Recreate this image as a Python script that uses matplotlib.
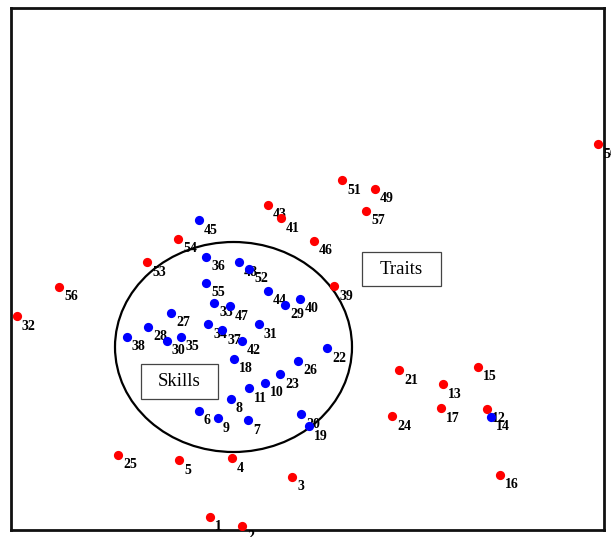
import matplotlib
matplotlib.use("Agg")
import matplotlib.pyplot as plt
from matplotlib.patches import Ellipse, Rectangle

# Red items (traits)
red_ids = [1, 2, 3, 4, 5, 25, 16, 24, 17, 12, 13, 21, 15, 32, 56, 53, 54, 43, 41, 46, 39, 51, 49, 57, 50]
red_x = [210, 242, 292, 232, 179, 118, 500, 392, 441, 487, 443, 399, 478, 17, 59, 147, 178, 268, 281, 314, 334, 342, 375, 366, 598]
red_y = [20, 11, 60, 79, 77, 82, 62, 121, 129, 128, 153, 167, 170, 221, 250, 275, 298, 332, 319, 296, 251, 357, 348, 326, 393]

# Blue items (skills)
blue_ids = [45, 36, 48, 52, 55, 44, 29, 40, 33, 47, 27, 34, 37, 42, 31, 22, 28, 38, 30, 35,
            18, 26, 23, 10, 11, 8, 6, 9, 7, 20, 19, 14]
blue_x = [199, 206, 239, 249, 206, 268, 285, 300, 214, 230, 171, 208, 222, 242, 259, 327, 148, 127, 167, 181,
          234, 298, 280, 265, 249, 231, 199, 218, 248, 301, 309, 491]
blue_y = [317, 280, 275, 268, 254, 246, 232, 238, 234, 231, 224, 213, 207, 196, 213, 189, 210, 200, 196, 200,
          178, 176, 163, 154, 149, 138, 126, 119, 117, 123, 111, 120]

fig = plt.figure(figsize=(6.11, 5.37), dpi=100)
ax = fig.add_axes([11 / 611, 7 / 537, 593 / 611, 522 / 537])
ax.set_xlim(11, 604)
ax.set_ylim(7, 529)

ax.scatter(red_x, red_y, s=44, color="#ff0000", zorder=4, linewidths=0)
ax.scatter(blue_x, blue_y, s=44, color="#0000ff", zorder=4, linewidths=0)

for i, x, y in zip(red_ids + blue_ids, red_x + blue_x, red_y + blue_y):
    ax.annotate(str(i), (x, y), xytext=(5, -10), textcoords="offset pixels",
                ha="left", va="center", family="Liberation Serif", weight="bold", size=10,
                zorder=3, annotation_clip=False)

ax.add_patch(Ellipse((233.5, 190), 237, 210, fill=False, edgecolor="black", linewidth=1.6, zorder=2))

ax.add_patch(Rectangle((362, 251), 79, 34, fill=False, edgecolor="#444444", linewidth=0.9, zorder=2))
ax.text(401.5, 268, "Traits", ha="center", va="center", family="Liberation Serif", size=13.5, zorder=3)
ax.add_patch(Rectangle((141, 138), 77, 35, fill=False, edgecolor="#444444", linewidth=0.9, zorder=2))
ax.text(179.5, 155.5, "Skills", ha="center", va="center", family="Liberation Serif", size=13.5, zorder=3)

for s in ax.spines.values():
    s.set_linewidth(2)
    s.set_color("#111111")
ax.set_xticks([218])
ax.set_xticklabels([])
ax.set_yticks([])
ax.tick_params(axis="x", direction="in", length=6, width=1.0)

fig.savefig("out.png", dpi=100)
